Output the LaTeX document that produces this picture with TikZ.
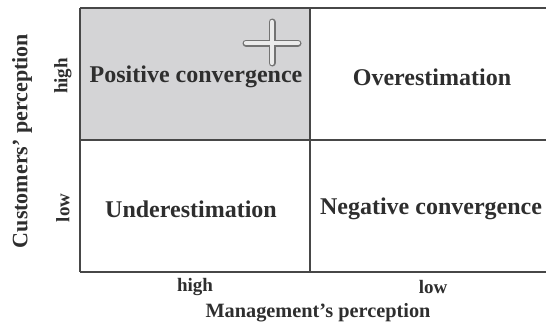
\documentclass[tikz,border=0pt]{standalone}
\usepackage{fontspec}
\setmainfont{Liberation Serif}
\begin{document}
\begin{tikzpicture}[x=1pt,y=-1pt,
  gridline/.style={draw=black!72, line width=1.3pt},
  celltext/.style={font=\bfseries\fontsize{24}{27}\selectfont, text=black!82, inner sep=0pt},
  axistext/.style={font=\bfseries\fontsize{19}{22}\selectfont, text=black!82, inner sep=0pt},
  titletext/.style={font=\bfseries\fontsize{20.3}{23}\selectfont, text=black!82, inner sep=0pt}]
\useasboundingbox (0,0) rectangle (546,324);
\fill[fill={rgb,255:red,212;green,212;blue,214}] (80,8) rectangle (310,140);
\coordinate (tl) at (80,8);
\coordinate (tr) at (546,8);
\coordinate (ml) at (80,140);
\coordinate (mr) at (546,140);
\coordinate (bl) at (80,272);
\coordinate (br) at (546,272);
\coordinate (mt) at (310,8);
\coordinate (mb) at (310,272);
\draw[gridline] (tl) -- (tr);
\draw[gridline] (ml) -- (mr);
\draw[gridline] (bl) -- (br);
\draw[gridline] (tl) -- (bl);
\draw[gridline] (mt) -- (mb);
% cross icon
\coordinate (cxl) at (246,43);
\coordinate (cxr) at (298,43);
\coordinate (cyt) at (272,22);
\coordinate (cyb) at (272,63);
\draw[line width=7pt, line cap=round, draw=black!55] (cxl) -- (cxr) (cyt) -- (cyb);
\draw[line width=4.2pt, line cap=round, draw=black!8] (cxl) -- (cxr) (cyt) -- (cyb);
\node[celltext] (pc) at (196,77) {Positive convergence};
\node[celltext] (ov) at (432,77) {Overestimation};
\node[celltext] (un) at (191,209) {Underestimation};
\node[celltext] (nc) at (431,209) {Negative convergence};
\node[axistext, rotate=90] (yh) at (63,76) {high};
\node[axistext, rotate=90] (yl) at (63,208) {low};
\node[axistext] (xh) at (195,287) {high};
\node[axistext] (xl) at (433,287) {low};
\node[titletext] (xt) at (318,313) {Management's perception};
\node[font=\bfseries\fontsize{22}{24}\selectfont, text=black!82, inner sep=0pt, rotate=90] (yt) at (22,141) {Customers' perception};
\end{tikzpicture}
\end{document}
